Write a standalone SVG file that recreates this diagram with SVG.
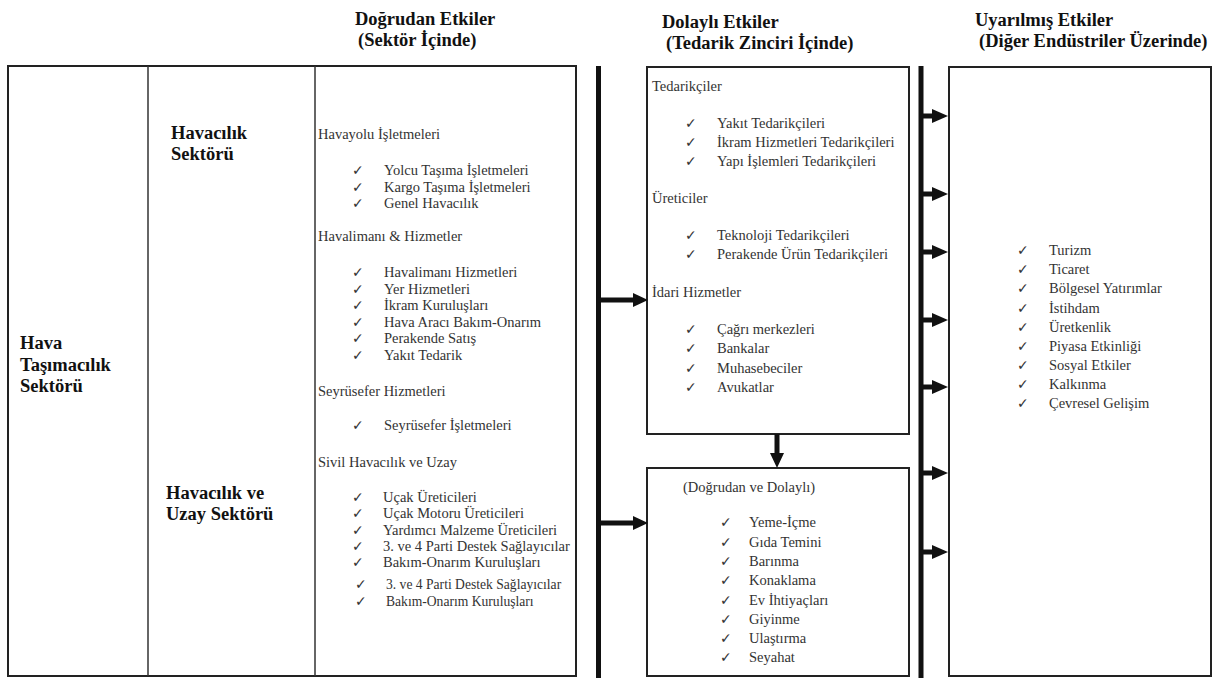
<svg xmlns="http://www.w3.org/2000/svg" width="1223" height="678" viewBox="0 0 1223 678" font-family="'Liberation Serif', 'DejaVu Serif', serif">
<style>
  .title { font-family: 'Liberation Serif', 'DejaVu Serif', serif; font-weight: bold; font-size: 18.5px; fill: #111; }
  .lbl { font-family: 'Liberation Serif', 'DejaVu Serif', serif; font-weight: bold; font-size: 18.5px; fill: #111; }
  .hd { font-family: 'Liberation Serif', 'DejaVu Serif', serif; font-size: 14.5px; fill: #333; }
  .it { font-family: 'Liberation Serif', 'DejaVu Serif', serif; font-size: 14.5px; fill: #333; }
  .it2 { font-family: 'Liberation Serif', 'DejaVu Serif', serif; font-size: 13.6px; fill: #333; }
  .ck { font-family: 'DejaVu Sans', sans-serif; font-size: 14px; fill: #333; }
  .box { fill: #fff; stroke: #222; stroke-width: 2; }
  .div { stroke: #333; stroke-width: 1.5; }
  .bar { stroke: #111; stroke-width: 5; }
  .shaft { stroke: #111; stroke-width: 5; }
  .head { fill: #111; }
</style>
<rect width="1223" height="678" fill="#fff"/>

<g id="titles">
  <text class="title" x="355" y="25">Doğrudan Etkiler</text>
  <text class="title" x="358" y="46">(Sektör İçinde)</text>
  <text class="title" x="662" y="28">Dolaylı Etkiler</text>
  <text class="title" x="666" y="49">(Tedarik Zinciri İçinde)</text>
  <text class="title" x="975" y="26">Uyarılmış Etkiler</text>
  <text class="title" x="979" y="47">(Diğer Endüstriler Üzerinde)</text>
</g>

<g id="table-direct">
  <rect class="box" x="8" y="66" width="568" height="610"/>
  <line class="div" x1="148" y1="66" x2="148" y2="676"/>
  <line class="div" x1="315" y1="66" x2="315" y2="676"/>
</g>

<g id="node-hava-tasimacilik">
  <text class="lbl" x="20" y="349">Hava</text>
  <text class="lbl" x="20" y="371">Taşımacılık</text>
  <text class="lbl" x="20" y="392">Sektörü</text>
</g>

<g id="node-havacilik-sektoru">
  <text class="lbl" x="171" y="139">Havacılık</text>
  <text class="lbl" x="171" y="160">Sektörü</text>
</g>

<g id="node-havacilik-uzay">
  <text class="lbl" x="166" y="499">Havacılık ve</text>
  <text class="lbl" x="166" y="520">Uzay Sektörü</text>
</g>

<g id="node-direct-list">
  <text class="hd" x="318" y="139">Havayolu İşletmeleri</text>
  <text class="ck" x="352" y="175">✓</text><text class="it" x="384" y="175">Yolcu Taşıma İşletmeleri</text>
  <text class="ck" x="352" y="191.5">✓</text><text class="it" x="384" y="191.5">Kargo Taşıma İşletmeleri</text>
  <text class="ck" x="352" y="208">✓</text><text class="it" x="384" y="208">Genel Havacılık</text>

  <text class="hd" x="318" y="241">Havalimanı &amp; Hizmetler</text>
  <text class="ck" x="352" y="277">✓</text><text class="it" x="384" y="277">Havalimanı Hizmetleri</text>
  <text class="ck" x="352" y="293.5">✓</text><text class="it" x="384" y="293.5">Yer Hizmetleri</text>
  <text class="ck" x="352" y="310">✓</text><text class="it" x="384" y="310">İkram Kuruluşları</text>
  <text class="ck" x="352" y="326.5">✓</text><text class="it" x="384" y="326.5">Hava Aracı Bakım-Onarım</text>
  <text class="ck" x="352" y="343">✓</text><text class="it" x="384" y="343">Perakende Satış</text>
  <text class="ck" x="352" y="360">✓</text><text class="it" x="384" y="360">Yakıt Tedarik</text>

  <text class="hd" x="318" y="396">Seyrüsefer Hizmetleri</text>
  <text class="ck" x="352" y="430">✓</text><text class="it" x="384" y="430">Seyrüsefer İşletmeleri</text>

  <text class="hd" x="318" y="467">Sivil Havacılık ve Uzay</text>
  <text class="ck" x="352" y="501.5">✓</text><text class="it" x="383" y="501.5">Uçak Üreticileri</text>
  <text class="ck" x="352" y="518">✓</text><text class="it" x="383" y="518">Uçak Motoru Üreticileri</text>
  <text class="ck" x="352" y="534.5">✓</text><text class="it" x="383" y="534.5">Yardımcı Malzeme Üreticileri</text>
  <text class="ck" x="352" y="550.5">✓</text><text class="it" x="383" y="550.5">3. ve 4 Parti Destek Sağlayıcılar</text>
  <text class="ck" x="352" y="567">✓</text><text class="it" x="383" y="567">Bakım-Onarım Kuruluşları</text>
  <text class="ck" x="355" y="588.5">✓</text><text class="it2" x="386" y="588.5">3. ve 4 Parti Destek Sağlayıcılar</text>
  <text class="ck" x="355" y="605.5">✓</text><text class="it2" x="386" y="605.5">Bakım-Onarım Kuruluşları</text>
</g>

<g id="node-indirect">
  <rect class="box" x="647" y="67" width="262" height="367"/>
  <text class="hd" x="652" y="91">Tedarikçiler</text>
  <text class="ck" x="685" y="128">✓</text><text class="it" x="717" y="128">Yakıt Tedarikçileri</text>
  <text class="ck" x="685" y="147">✓</text><text class="it" x="717" y="147">İkram Hizmetleri Tedarikçileri</text>
  <text class="ck" x="685" y="166">✓</text><text class="it" x="717" y="166">Yapı İşlemleri Tedarikçileri</text>
  <text class="hd" x="652" y="203">Üreticiler</text>
  <text class="ck" x="685" y="240">✓</text><text class="it" x="717" y="240">Teknoloji Tedarikçileri</text>
  <text class="ck" x="685" y="259">✓</text><text class="it" x="717" y="259">Perakende Ürün Tedarikçileri</text>
  <text class="hd" x="652" y="297">İdari Hizmetler</text>
  <text class="ck" x="685" y="334">✓</text><text class="it" x="717" y="334">Çağrı merkezleri</text>
  <text class="ck" x="685" y="353">✓</text><text class="it" x="717" y="353">Bankalar</text>
  <text class="ck" x="685" y="373">✓</text><text class="it" x="717" y="373">Muhasebeciler</text>
  <text class="ck" x="685" y="392">✓</text><text class="it" x="717" y="392">Avukatlar</text>
</g>

<g id="node-direct-indirect">
  <rect class="box" x="647" y="468" width="262" height="208"/>
  <text class="hd" x="683" y="492">(Doğrudan ve Dolaylı)</text>
  <text class="ck" x="720" y="527">✓</text><text class="it" x="749" y="527">Yeme-İçme</text>
  <text class="ck" x="720" y="547">✓</text><text class="it" x="749" y="547">Gıda Temini</text>
  <text class="ck" x="720" y="566">✓</text><text class="it" x="749" y="566">Barınma</text>
  <text class="ck" x="720" y="585">✓</text><text class="it" x="749" y="585">Konaklama</text>
  <text class="ck" x="720" y="605">✓</text><text class="it" x="749" y="605">Ev İhtiyaçları</text>
  <text class="ck" x="720" y="624">✓</text><text class="it" x="749" y="624">Giyinme</text>
  <text class="ck" x="720" y="643">✓</text><text class="it" x="749" y="643">Ulaştırma</text>
  <text class="ck" x="720" y="662">✓</text><text class="it" x="749" y="662">Seyahat</text>
</g>

<g id="node-induced">
  <rect class="box" x="949" y="67" width="262" height="609"/>
  <text class="ck" x="1017" y="255">✓</text><text class="it" x="1049" y="255">Turizm</text>
  <text class="ck" x="1017" y="274">✓</text><text class="it" x="1049" y="274">Ticaret</text>
  <text class="ck" x="1017" y="293">✓</text><text class="it" x="1049" y="293">Bölgesel Yatırımlar</text>
  <text class="ck" x="1017" y="312.5">✓</text><text class="it" x="1049" y="312.5">İstihdam</text>
  <text class="ck" x="1017" y="331.5">✓</text><text class="it" x="1049" y="331.5">Üretkenlik</text>
  <text class="ck" x="1017" y="350.5">✓</text><text class="it" x="1049" y="350.5">Piyasa Etkinliği</text>
  <text class="ck" x="1017" y="370">✓</text><text class="it" x="1049" y="370">Sosyal Etkiler</text>
  <text class="ck" x="1017" y="389">✓</text><text class="it" x="1049" y="389">Kalkınma</text>
  <text class="ck" x="1017" y="408">✓</text><text class="it" x="1049" y="408">Çevresel Gelişim</text>
</g>

<g id="connectors">
  <line class="bar" x1="598.5" y1="66" x2="598.5" y2="678"/>
  <line class="bar" x1="921" y1="66" x2="921" y2="678"/>
  <line class="shaft" x1="598" y1="300" x2="636" y2="300"/>
  <polygon class="head" points="633,293 648,300 633,307"/>
  <line class="shaft" x1="598" y1="523" x2="636" y2="523"/>
  <polygon class="head" points="633,516 648,523 633,530"/>
  <line class="shaft" x1="777" y1="434" x2="777" y2="456"/>
  <polygon class="head" points="770,453 777,468 784,453"/>
  <line class="shaft" x1="921" y1="116" x2="935" y2="116"/>
  <polygon class="head" points="932,109 948,116 932,123"/>
  <line class="shaft" x1="921" y1="194" x2="935" y2="194"/>
  <polygon class="head" points="932,187 948,194 932,201"/>
  <line class="shaft" x1="921" y1="252" x2="935" y2="252"/>
  <polygon class="head" points="932,245 948,252 932,259"/>
  <line class="shaft" x1="921" y1="320" x2="935" y2="320"/>
  <polygon class="head" points="932,313 948,320 932,327"/>
  <line class="shaft" x1="921" y1="387" x2="935" y2="387"/>
  <polygon class="head" points="932,380 948,387 932,394"/>
  <line class="shaft" x1="921" y1="473" x2="935" y2="473"/>
  <polygon class="head" points="932,466 948,473 932,480"/>
  <line class="shaft" x1="921" y1="552" x2="935" y2="552"/>
  <polygon class="head" points="932,545 948,552 932,559"/>
</g>
</svg>
